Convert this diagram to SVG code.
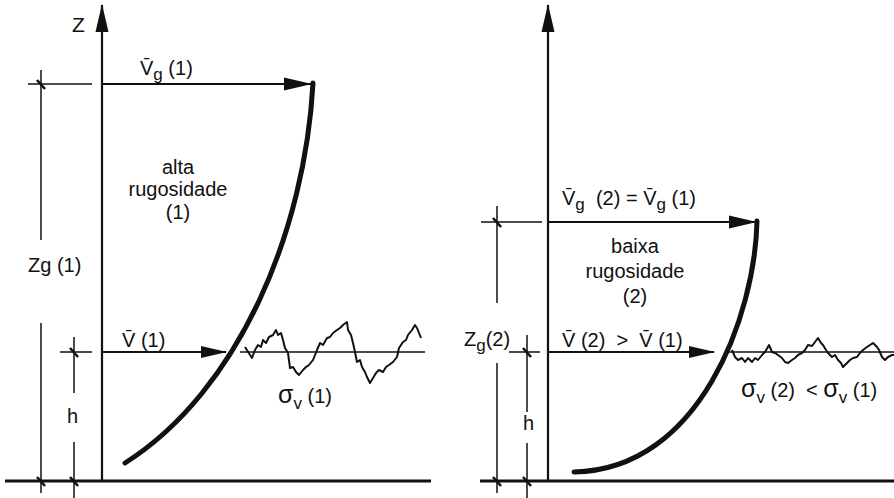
<svg xmlns="http://www.w3.org/2000/svg" width="894" height="498" viewBox="0 0 894 498">
<defs>
<marker id="ah" markerUnits="userSpaceOnUse" markerWidth="28" markerHeight="14" refX="27" refY="7" orient="auto" viewBox="0 0 28 14">
<path d="M0,0.5 L28,7 L0,13.5 z" fill="#111"/>
</marker>
<marker id="ahs" markerUnits="userSpaceOnUse" markerWidth="26" markerHeight="12" refX="25" refY="6" orient="auto" viewBox="0 0 26 12">
<path d="M0,0 L26,6 L0,12 z" fill="#111"/>
</marker>
</defs>
<style>
text{font-family:"Liberation Sans",Arial,sans-serif;fill:#111;font-size:20px;white-space:pre}
.sub{font-size:17px}
.sig{font-size:25px}
.axis{stroke:#111;stroke-width:2.2;fill:none}
.dim{stroke:#111;stroke-width:1.5;fill:none}
.tick{stroke:#111;stroke-width:2.6;fill:none}
.ground{stroke:#111;stroke-width:3;fill:none}
.prof{stroke:#111;stroke-width:5;fill:none;stroke-linecap:round}
.wave{stroke:#111;stroke-width:2;fill:none;stroke-linejoin:round}
.ref{stroke:#111;stroke-width:1.3;fill:none}
.c{text-anchor:middle}
</style>
<rect width="894" height="498" fill="#fff"/>

<g id="panel1">
<g id="ground1"><line class="ground" x1="5" y1="481" x2="431" y2="481"/></g>
<g id="axis1"><line class="axis" x1="102" y1="481" x2="102" y2="5" marker-end="url(#ah)"/>
<text x="72" y="32" style="font-size:21px">Z</text></g>
<g id="dims1">
<line class="dim" x1="41" y1="70" x2="41" y2="240"/>
<line class="dim" x1="41" y1="323" x2="41" y2="493"/>
<line class="dim" x1="28" y1="84" x2="92" y2="84"/>
<line class="dim" x1="74" y1="337" x2="74" y2="393"/>
<line class="dim" x1="74" y1="442" x2="74" y2="498"/>
<line class="dim" x1="60" y1="352" x2="92" y2="352"/>
<line class="tick" x1="37" y1="80" x2="45" y2="89"/>
<line class="tick" x1="70" y1="348" x2="78" y2="357"/>
<line class="tick" x1="37" y1="477" x2="45" y2="486"/>
<line class="tick" x1="70" y1="477" x2="78" y2="486"/>
<text x="28" y="272">Zg (1)</text>
<text x="67" y="423">h</text>
</g>
<g id="connectors1">
<line class="axis" x1="102" y1="84" x2="311" y2="84" marker-end="url(#ah)"/>
<line class="axis" x1="102" y1="352" x2="226" y2="352" marker-end="url(#ahs)"/>
</g>
<g id="profile1"><path class="prof" d="M313,83 C305,230 240,390 125,463"/></g>
<g id="labels1">
<text x="140" y="75">V&#x304;<tspan class="sub" dy="5">g</tspan><tspan dy="-5"> (1)</tspan></text>
<text class="c" x="178" y="174">alta</text>
<text class="c" x="178" y="196">rugosidade</text>
<text class="c" x="178" y="219">(1)</text>
<text x="122" y="347">V&#x304; (1)</text>
<text x="278" y="403"><tspan class="sig">σ</tspan><tspan class="sub" dy="6">v</tspan><tspan dy="-6"> (1)</tspan></text>
</g>
<g id="turb1">
<line class="ref" x1="240" y1="352" x2="425" y2="352"/>
<polyline class="wave" points="245,347 252,358 255,350 258,345 261,347 263,340 266,343 269,337 273,335 276,330 278,335 281,333 283,340 285,348 288,353 290,368 293,367 296,372 299,375 303,370 306,367 309,365 313,360 317,350 320,343 323,345 327,338 330,337 333,333 337,330 340,328 343,325 347,322 348,330 351,335 353,343 355,352 357,362 360,360 362,367 365,372 367,377 370,383 373,378 376,373 379,370 383,372 386,367 389,365 393,362 397,357 399,348 403,342 406,340 408,335 412,330 415,325 417,328 421,338"/>
</g>
</g>

<g id="panel2">
<g id="ground2"><line class="ground" x1="480" y1="481" x2="894" y2="481"/></g>
<g id="axis2"><line class="axis" x1="548" y1="481" x2="548" y2="5" marker-end="url(#ah)"/></g>
<g id="dims2">
<line class="dim" x1="497" y1="206" x2="497" y2="303"/>
<line class="dim" x1="497" y1="363" x2="497" y2="493"/>
<line class="dim" x1="481" y1="222" x2="542" y2="222"/>
<line class="dim" x1="527" y1="335" x2="527" y2="412"/>
<line class="dim" x1="527" y1="443" x2="527" y2="498"/>
<line class="dim" x1="509" y1="352" x2="540" y2="352"/>
<line class="tick" x1="493" y1="218" x2="501" y2="227"/>
<line class="tick" x1="523" y1="348" x2="531" y2="357"/>
<line class="tick" x1="493" y1="477" x2="501" y2="486"/>
<line class="tick" x1="523" y1="477" x2="531" y2="486"/>
<text x="464" y="346">Z<tspan class="sub" dy="5">g</tspan><tspan dy="-5">(2)</tspan></text>
<text x="523" y="430">h</text>
</g>
<g id="connectors2">
<line class="axis" x1="548" y1="222" x2="756" y2="222" marker-end="url(#ah)"/>
<line class="axis" x1="548" y1="352" x2="714" y2="352" marker-end="url(#ahs)"/>
</g>
<g id="profile2"><path class="prof" d="M757,221 C755,315 700,470 574,472"/></g>
<g id="labels2">
<text x="562" y="205">V&#x304;<tspan class="sub" dy="5">g</tspan><tspan dy="-5">  (2) = V&#x304;</tspan><tspan class="sub" dy="5">g</tspan><tspan dy="-5"> (1)</tspan></text>
<text class="c" x="635" y="253">baixa</text>
<text class="c" x="635" y="278">rugosidade</text>
<text class="c" x="635" y="303">(2)</text>
<text x="562" y="347">V&#x304; (2)  &gt;  V&#x304; (1)</text>
<text x="741" y="397"><tspan class="sig">σ</tspan><tspan class="sub" dy="6">v</tspan><tspan dy="-6"> (2)  &lt; </tspan><tspan class="sig">σ</tspan><tspan class="sub" dy="6">v</tspan><tspan dy="-6"> (1)</tspan></text>
</g>
<g id="turb2">
<line class="ref" x1="728" y1="352" x2="894" y2="352"/>
<polyline class="wave" points="732,350 735,357 738,360 742,358 745,362 748,358 752,362 755,358 758,360 762,355 765,352 769,345 772,352 775,353 778,355 782,358 785,362 788,363 792,360 795,358 798,355 802,353 805,350 808,345 812,346 815,342 818,338 821,343 823,345 826,350 828,353 832,357 835,355 838,360 841,363 843,367 847,363 850,360 853,358 857,357 860,353 863,350 867,347 870,345 873,343 877,347 879,350 882,357 885,360 888,357 892,355 894,355"/>
</g>
</g>
</svg>
